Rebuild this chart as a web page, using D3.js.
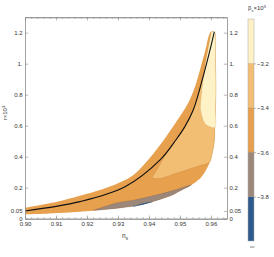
<!DOCTYPE html>
<html><head><meta charset="utf-8">
<script src="https://cdn.jsdelivr.net/npm/d3@7"></script>
<style>
html,body{margin:0;padding:0;background:#fff;}
svg{display:block;font-family:"Liberation Sans",Arial,sans-serif;}
</style></head>
<body><svg id="c" width="274" height="257"></svg>
<script>
// ---- data (ns, r×10^3) ----
const upperEdge = [[0.900,0.071],[0.910,0.108],[0.918,0.150],[0.925,0.190],[0.930,0.228],[0.935,0.282],[0.940,0.385],[0.9445,0.50],[0.949,0.63],[0.9525,0.74],[0.955,0.86],[0.958,1.07],[0.9600,1.206]];
const rightEdge = [[0.96113,1.206],[0.96145,1.024],[0.96161,0.830],[0.96145,0.701],[0.96129,0.590],[0.96106,0.488],[0.96032,0.411],[0.95968,0.366],[0.95806,0.301],[0.95700,0.271],[0.95516,0.237],[0.95377,0.219]];
const lowerEdge = [[0.95290,0.208],[0.95000,0.179],[0.94677,0.146],[0.94355,0.124],[0.94032,0.105],[0.93710,0.088],[0.93065,0.069],[0.92419,0.056],[0.91774,0.045],[0.90806,0.034],[0.9000,0.028]];
const greyTop = [[0.92194,0.054],[0.92581,0.079],[0.93000,0.103],[0.93613,0.124],[0.94355,0.159],[0.94839,0.185],[0.95377,0.219]];
const greyBottom = [[0.95290,0.208],[0.95000,0.179],[0.94677,0.146],[0.94355,0.124],[0.94032,0.105],[0.93710,0.088],[0.93065,0.069],[0.92419,0.056]];
const blueSliver = [[0.93452,0.076],[0.93710,0.093],[0.93935,0.104],[0.94129,0.109],[0.94032,0.1026],[0.93710,0.0865],[0.93452,0.075]];
const lightBand = [[0.94087,0.261],[0.94355,0.259],[0.94677,0.279],[0.95161,0.311],[0.95645,0.343],[0.95968,0.366],[0.96032,0.411],[0.96106,0.488],[0.96129,0.590],[0.96145,0.701],[0.96161,0.830],[0.96145,1.024],[0.96113,1.206],[0.9611,1.206],[0.9597,1.088],[0.9572,0.895],[0.9543,0.701],[0.9516,0.594],[0.9487,0.508],[0.9450,0.40],[0.9430,0.33]];
const yellowBand = [[0.96016,1.206],[0.96113,1.206],[0.96145,1.024],[0.96161,0.830],[0.96145,0.701],[0.96129,0.590],[0.95968,0.594],[0.95806,0.615],[0.95710,0.663],[0.95661,0.714],[0.95677,0.766],[0.95710,0.830],[0.95806,0.981],[0.95903,1.088]];
const blackLine = [[0.900,0.050],[0.9177,0.110],[0.9323,0.206],[0.9436,0.379],[0.9487,0.508],[0.9516,0.594],[0.9543,0.701],[0.9572,0.895],[0.9597,1.088],[0.9611,1.206]];

const xTicks = [0.90,0.91,0.92,0.93,0.94,0.95,0.96];
const xTickLabels = ["0.90","0.91","0.92","0.93","0.94","0.95","0.96"];
const yTicks = [0,0.05,0.2,0.4,0.6,0.8,1.0,1.2];
const yTickLabels = ["0","0.05","0.2","0.4","0.6","0.8","1.","1.2"];
const levels = [-4.0,-3.8,-3.6,-3.4,-3.2,-3.0];
const levelColors = ["#2d5a8c","#9c877b","#e6a04e","#f2be74","#fef2c6"];
const cbTicks = [-3.8,-3.6,-3.4,-3.2];
const cbTickLabels = ["\u22123.8","\u22123.6","\u22123.4","\u22123.2"];

// ---- drawing ----
const svg = d3.select("#c");
const x = d3.scaleLinear().domain([0.90,0.9652]).range([25,227]);
const y = d3.scaleLinear().domain([0,1.3]).range([218.7,17.2]);
const line = d3.line().x(d=>x(d[0])).y(d=>y(d[1])).curve(d3.curveCatmullRom.alpha(0.5));
const poly = pts => line(pts) + "Z";

const g = svg.append("g");
g.append("path").attr("d", poly(upperEdge.concat(rightEdge, lowerEdge))).attr("fill", levelColors[2]);
g.append("path").attr("d", poly(greyTop.concat(greyBottom))).attr("fill", levelColors[1]).attr("stroke","rgba(90,60,40,0.35)").attr("stroke-width",0.5);
g.append("path").attr("d", poly(blueSliver)).attr("fill", levelColors[0]);
g.append("path").attr("d", poly(lightBand)).attr("fill", levelColors[3]).attr("stroke","rgba(150,90,30,0.35)").attr("stroke-width",0.5);
g.append("path").attr("d", poly(yellowBand)).attr("fill", levelColors[4]).attr("stroke","rgba(170,120,40,0.3)").attr("stroke-width",0.5);
g.append("path").attr("d", line(blackLine)).attr("fill","none").attr("stroke","#111").attr("stroke-width",1.1);

// frame & axes
const axisCol = "#8a8a8a", txtCol = "#333";
function styleAxis(sel){
  sel.select(".domain").attr("stroke",axisCol).attr("stroke-width",0.8);
  sel.selectAll(".tick line").attr("stroke",axisCol).attr("stroke-width",0.6);
  sel.selectAll("text").attr("fill",txtCol).style("font-size","6px").style("font-family","'Liberation Sans',Arial,sans-serif");
}
const minor = d3.range(0,33).map(i=>0.90+i*0.002).filter(v=>v<=0.9652);
const bottomMinor = svg.append("g").attr("transform",`translate(0,${y(0)})`)
  .call(d3.axisBottom(x).tickValues(minor).tickSizeInner(-1.6).tickSizeOuter(0).tickFormat(""));
styleAxis(bottomMinor);
const topMinor = svg.append("g").attr("transform",`translate(0,${y(1.3)})`)
  .call(d3.axisTop(x).tickValues(minor).tickSizeInner(-1.6).tickSizeOuter(0).tickFormat(""));
styleAxis(topMinor);
const axB = svg.append("g").attr("transform",`translate(0,${y(0)})`)
  .call(d3.axisBottom(x).tickValues(xTicks).tickSizeInner(-3.2).tickSizeOuter(0).tickPadding(3).tickFormat((d,i)=>xTickLabels[i]));
styleAxis(axB);
const axT = svg.append("g").attr("transform",`translate(0,${y(1.3)})`)
  .call(d3.axisTop(x).tickValues(xTicks).tickSizeInner(-3.2).tickSizeOuter(0).tickFormat(""));
styleAxis(axT);
const axL = svg.append("g").attr("transform",`translate(${x(0.90)},0)`)
  .call(d3.axisLeft(y).tickValues(yTicks).tickSizeInner(-3.2).tickSizeOuter(0).tickPadding(2.5).tickFormat((d,i)=>yTickLabels[i]));
styleAxis(axL);
const axR = svg.append("g").attr("transform",`translate(${x(0.9652)},0)`)
  .call(d3.axisRight(y).tickValues(yTicks).tickSizeInner(-3.2).tickSizeOuter(0).tickPadding(2.5).tickFormat((d,i)=>yTickLabels[i]));
styleAxis(axR);

// axis labels
const xl = svg.append("text").attr("x",125).attr("y",238).attr("text-anchor","middle").attr("fill",txtCol).style("font-size","6.5px");
xl.append("tspan").text("n");
xl.append("tspan").attr("dy",1.5).style("font-size","4.5px").text("s");
const yl = svg.append("text").attr("transform","translate(7,113) rotate(-90)").attr("text-anchor","middle").attr("fill",txtCol).style("font-size","6px");
yl.append("tspan").text("r\u00d710");
yl.append("tspan").attr("dy",-2.2).style("font-size","4.2px").text("3");

// colorbar
const cy = d3.scaleLinear().domain([-4.0,-3.0]).range([241,19]);
const cb = svg.append("g");
cb.selectAll("rect.band").data(levelColors).join("rect").attr("class","band")
  .attr("x",248).attr("width",6)
  .attr("y",(d,i)=>cy(levels[i+1])).attr("height",(d,i)=>cy(levels[i])-cy(levels[i+1]))
  .attr("fill",d=>d);
cb.selectAll("line.lev").data(cbTicks).join("line").attr("class","lev")
  .attr("x1",248).attr("x2",254).attr("y1",d=>cy(d)).attr("y2",d=>cy(d))
  .attr("stroke","rgba(120,80,40,0.35)").attr("stroke-width",0.6);
cb.append("rect").attr("x",248).attr("y",19).attr("width",6).attr("height",222).attr("fill","none").attr("stroke","#aaa").attr("stroke-width",0.5);
const cax = cb.append("g").attr("transform","translate(254,0)")
  .call(d3.axisRight(cy).tickValues(cbTicks).tickSizeInner(2).tickSizeOuter(0).tickPadding(1).tickFormat((d,i)=>cbTickLabels[i]));
cax.select(".domain").remove();
cax.selectAll(".tick line").attr("stroke",axisCol).attr("stroke-width",0.6);
cax.selectAll("text").attr("fill",txtCol).style("font-size","6px");
cb.append("line").attr("x1",250).attr("x2",254.5).attr("y1",247).attr("y2",247).attr("stroke","#666").attr("stroke-width",0.8);
const ct = svg.append("text").attr("x",257).attr("y",10).attr("text-anchor","middle").attr("fill",txtCol).style("font-size","6px");
ct.append("tspan").text("\u03b2");
ct.append("tspan").attr("dy",1.5).style("font-size","4.2px").text("s");
ct.append("tspan").attr("dy",-1.5).text("\u00d710");
ct.append("tspan").attr("dy",-2.2).style("font-size","4.2px").text("5");
</script></body></html>
